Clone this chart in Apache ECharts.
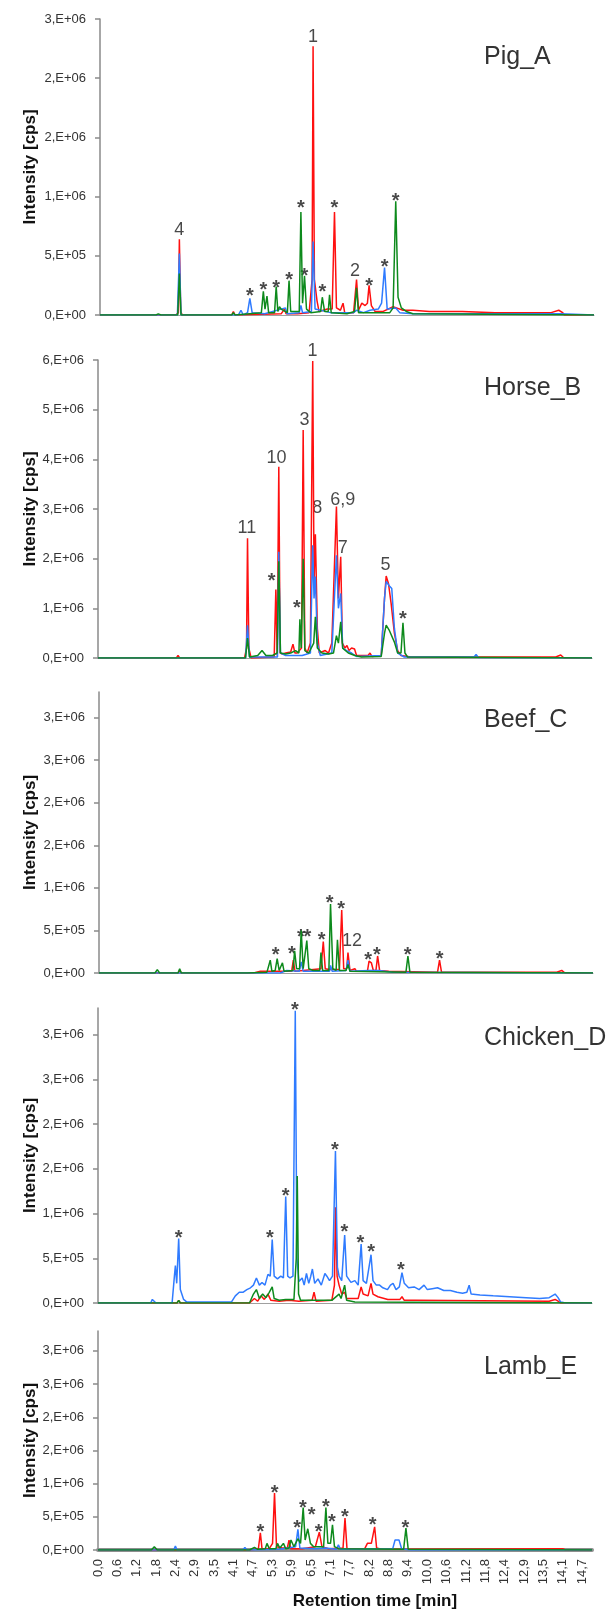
<!DOCTYPE html>
<html><head><meta charset="utf-8">
<script src="https://cdn.jsdelivr.net/npm/echarts@6/dist/echarts.min.js"></script>
<style>html,body{margin:0;padding:0;background:#fff}#c{width:607px;height:1613px}</style>
</head><body><div id="c"></div>
<script>
// ---- x axis (retention time, min) ----
const xTickLabels = ['0,0','0,6','1,2','1,8','2,4','2,9','3,5','4,1','4,7','5,3','5,9','6,5','7,1','7,7','8,2','8,8','9,4','10,0','10,6','11,2','11,8','12,4','12,9','13,5','14,1','14,7'];
const xTickStep = 0.588;

// ---- panel names ----
const panelNames = ['Pig_A','Horse_B','Beef_C','Chicken_D','Lamb_E'];

// ---- y axis tick labels (intensity, units of 1e6 cps) ----
const pigYTicks = ['0,E+00','5,E+05','1,E+06','2,E+06','2,E+06','3,E+06'];
const horseYTicks = ['0,E+00','1,E+06','2,E+06','3,E+06','4,E+06','5,E+06','6,E+06'];
const beefYTicks = ['0,E+00','5,E+05','1,E+06','2,E+06','2,E+06','3,E+06','3,E+06'];
const chickenYTicks = ['0,E+00','5,E+05','1,E+06','2,E+06','2,E+06','3,E+06','3,E+06'];
const lambYTicks = ['0,E+00','5,E+05','1,E+06','2,E+06','2,E+06','3,E+06','3,E+06'];
const yTickSteps = [0.5, 1, 0.5, 0.5, 0.5];
const yMaxes = [2.5, 6, 3.3, 3.3, 3.3];

// ---- chromatograms: [time min, intensity 1e6 cps] ----
const pigRed = [[0,0],[2.3,0],[2.38,0.02],[2.41,0.64],[2.45,0.03],[2.5,0],[4.0,0],[4.05,0.03],[4.1,0],[5.5,0.01],[5.6,0.05],[5.65,0.01],[6.0,0.01],[6.35,0.02],[6.44,0.3],[6.47,2.27],[6.51,0.3],[6.59,0.12],[6.65,0.03],[6.9,0.05],[7.05,0.05],[7.12,0.87],[7.18,0.06],[7.3,0.04],[7.38,0.1],[7.43,0.02],[7.7,0.02],[7.79,0.30],[7.85,0.04],[7.95,0.1],[8.05,0.08],[8.12,0.1],[8.17,0.25],[8.24,0.08],[8.35,0.03],[8.6,0.03],[8.9,0.07],[9.0,0.06],[9.2,0.04],[9.5,0.04],[10.0,0.03],[11.0,0.03],[12.0,0.02],[13.0,0.02],[13.7,0.02],[13.93,0.04],[14.05,0.02],[14.1,0],[15,0]];
const pigBlue = [[0,0],[2.35,0],[2.41,0.52],[2.46,0],[4.2,0],[4.28,0.04],[4.35,0],[4.48,0.02],[4.55,0.14],[4.62,0.02],[5.0,0.01],[5.63,0.06],[5.68,0.01],[6.05,0.02],[6.10,0.08],[6.15,0.02],[6.42,0.03],[6.47,0.62],[6.53,0.05],[7.0,0.02],[7.7,0.02],[7.79,0.04],[8.0,0.02],[8.2,0.04],[8.45,0.05],[8.55,0.1],[8.64,0.40],[8.72,0.05],[8.98,0.06],[9.1,0.02],[9.5,0.01],[14,0.01],[15,0]];
const pigGreen = [[0,0],[1.7,0],[1.77,0.01],[1.85,0],[2.36,0],[2.41,0.35],[2.46,0],[4.0,0],[4.05,0.02],[4.1,0],[4.9,0.02],[4.96,0.2],[5.01,0.05],[5.07,0.16],[5.12,0.02],[5.3,0.02],[5.35,0.24],[5.4,0.03],[5.45,0.07],[5.5,0.05],[5.69,0.02],[5.74,0.29],[5.79,0.03],[6.05,0.03],[6.10,0.87],[6.15,0.1],[6.21,0.33],[6.27,0.05],[6.4,0.02],[6.7,0.03],[6.75,0.15],[6.82,0.03],[6.93,0.03],[6.97,0.17],[7.02,0.02],[7.5,0.01],[7.73,0.03],[7.79,0.23],[7.85,0.02],[8.8,0.02],[8.9,0.06],[8.98,0.96],[9.05,0.15],[9.15,0.06],[9.3,0.03],[9.5,0.01],[15,0]];
const pigMarks = [[2.41,0.72,'4'],[4.55,0.20,'*'],[4.96,0.25,'*'],[5.35,0.27,'*'],[5.74,0.33,'*'],[6.10,0.94,'*'],[6.21,0.37,'*'],[6.47,2.35,'1'],[6.75,0.23,'*'],[7.12,0.94,'*'],[7.74,0.37,'2'],[8.17,0.28,'*'],[8.64,0.44,'*'],[8.98,1.0,'*']];

const horseRed = [[0,0],[2.38,0],[2.43,0.05],[2.48,0],[4.45,0],[4.51,0.2],[4.54,2.41],[4.58,0.2],[4.65,0],[5.35,0.02],[5.40,1.38],[5.44,0.05],[5.49,3.85],[5.53,0.1],[5.6,0.08],[5.7,0.1],[5.85,0.12],[5.92,0.28],[5.98,0.1],[6.05,0.1],[6.18,0.2],[6.23,4.59],[6.28,0.2],[6.35,0.1],[6.45,0.3],[6.52,5.98],[6.56,1.5],[6.60,2.49],[6.66,0.6],[6.72,0.1],[6.9,0.15],[7.0,0.1],[7.1,0.3],[7.24,3.05],[7.30,1.2],[7.37,2.04],[7.42,0.3],[7.5,0.2],[7.56,0.25],[7.62,0.15],[7.7,0.2],[7.79,0.18],[7.85,0.05],[8.2,0.05],[8.26,0.1],[8.32,0.03],[8.6,0.05],[8.7,1.2],[8.75,1.65],[8.82,1.5],[8.90,1.1],[9.0,0.5],[9.1,0.15],[9.2,0.05],[9.5,0.02],[10.25,0.02],[10.31,0.06],[10.37,0.02],[13.9,0.02],[14.05,0.06],[14.15,0],[15,0]];
const horseBlue = [[0,0],[4.48,0],[4.54,0.66],[4.6,0.02],[5.45,0.02],[5.49,2.14],[5.54,0.1],[5.7,0.05],[6.2,0.05],[6.45,0.1],[6.52,2.27],[6.56,1.2],[6.60,1.64],[6.66,0.3],[6.75,0.05],[7.1,0.1],[7.24,2.07],[7.30,1.0],[7.37,1.3],[7.43,0.2],[7.55,0.15],[7.7,0.1],[7.85,0.03],[8.6,0.05],[8.7,1.2],[8.75,1.54],[8.85,1.45],[8.92,1.4],[9.0,0.6],[9.1,0.1],[9.3,0.02],[11.42,0.02],[11.48,0.07],[11.55,0.01],[15,0]];
const horseGreen = [[0,0],[2.38,0],[2.43,0.04],[2.48,0],[4.48,0],[4.54,0.4],[4.6,0.02],[4.85,0.05],[4.98,0.15],[5.1,0.05],[5.3,0.05],[5.44,0.1],[5.49,1.95],[5.54,0.1],[5.7,0.08],[5.85,0.1],[6.0,0.15],[6.1,0.1],[6.13,0.78],[6.17,0.2],[6.23,2.0],[6.28,0.15],[6.4,0.1],[6.55,0.3],[6.60,0.83],[6.66,0.2],[6.8,0.1],[7.0,0.08],[7.15,0.1],[7.24,0.45],[7.30,0.3],[7.37,0.73],[7.43,0.2],[7.6,0.1],[7.8,0.05],[8.0,0.02],[8.6,0.03],[8.7,0.5],[8.75,0.66],[8.85,0.55],[9.0,0.32],[9.1,0.1],[9.2,0.1],[9.26,0.71],[9.32,0.1],[9.4,0.02],[15,0]];
const horseMarks = [[4.52,2.61,'11'],[5.27,1.64,'*'],[5.42,4.02,'10'],[6.04,1.10,'*'],[6.27,4.79,'3'],[6.51,6.18,'1'],[6.66,3.01,'8'],[7.43,3.18,'6,9'],[7.43,2.21,'7'],[8.73,1.87,'5'],[9.26,0.87,'*']];

const beefRed = [[0,0],[2.4,0],[2.45,0.03],[2.5,0],[4.7,0],[4.9,0.02],[5.85,0.02],[5.90,0.15],[5.95,0.02],[6.2,0.03],[6.74,0.05],[6.81,0.37],[6.87,0.05],[7.0,0.04],[7.3,0.04],[7.37,0.74],[7.43,0.05],[7.52,0.05],[7.56,0.24],[7.62,0.03],[7.77,0.05],[7.82,0.02],[8.15,0.02],[8.2,0.14],[8.27,0.12],[8.33,0.03],[8.41,0.03],[8.46,0.2],[8.52,0.03],[8.8,0.02],[10.28,0.01],[10.34,0.15],[10.4,0.01],[13.9,0.01],[14.05,0.03],[14.15,0],[15,0]];
const beefBlue = [[0,0],[5.5,0],[5.7,0.03],[6.08,0.02],[6.14,0.13],[6.2,0.02],[7.0,0.02],[7.03,0.09],[7.08,0.02],[7.5,0.03],[7.56,0.15],[7.62,0.02],[8.2,0.03],[8.5,0.03],[8.9,0.01],[15,0]];
const beefGreen = [[0,0],[1.7,0],[1.77,0.04],[1.84,0],[2.4,0],[2.45,0.05],[2.5,0],[4.5,0],[5.1,0.01],[5.20,0.15],[5.25,0.02],[5.35,0.03],[5.41,0.17],[5.47,0.03],[5.57,0.12],[5.62,0.02],[5.89,0.03],[5.94,0.26],[6.0,0.05],[6.09,0.05],[6.14,0.50],[6.2,0.05],[6.31,0.38],[6.37,0.05],[6.5,0.03],[6.7,0.03],[6.74,0.24],[6.79,0.03],[6.98,0.03],[7.03,0.81],[7.1,0.05],[7.2,0.03],[7.24,0.39],[7.3,0.03],[7.5,0.03],[7.56,0.1],[7.62,0.02],[9.32,0.01],[9.38,0.2],[9.44,0.01],[15,0]];
const beefMarks = [[5.36,0.27,'*'],[5.86,0.28,'*'],[6.13,0.47,'*'],[6.33,0.47,'*'],[6.76,0.44,'*'],[7.0,0.87,'*'],[7.35,0.81,'*'],[7.68,0.38,'12'],[8.17,0.21,'*'],[8.44,0.27,'*'],[9.37,0.27,'*'],[10.34,0.22,'*']];

const chickenRed = [[0,0],[1.65,0],[1.71,0.02],[1.77,0],[2.4,0],[2.45,0.03],[2.5,0],[4.6,0],[4.75,0.05],[4.85,0.02],[4.95,0.08],[5.05,0.04],[5.16,0.1],[5.25,0.03],[5.5,0.02],[5.8,0.03],[6.1,0.02],[6.5,0.03],[6.56,0.12],[6.62,0.02],[7.1,0.03],[7.18,0.2],[7.21,1.07],[7.26,0.3],[7.32,0.2],[7.4,0.1],[7.49,0.12],[7.55,0.05],[7.9,0.05],[7.99,0.18],[8.05,0.1],[8.2,0.08],[8.29,0.22],[8.35,0.1],[8.5,0.07],[8.8,0.04],[9.17,0.04],[9.23,0.07],[9.3,0.03],[9.6,0.03],[13.7,0.02],[13.88,0.04],[13.97,0.02],[14.05,0],[15,0]];
const chickenBlue = [[0,0],[1.6,0],[1.65,0.04],[1.71,0.04],[1.76,0],[2.25,0],[2.32,0.3],[2.35,0.42],[2.39,0.22],[2.45,0.72],[2.5,0.15],[2.6,0.04],[2.7,0.01],[4.05,0.01],[4.17,0.08],[4.29,0.12],[4.4,0.12],[4.52,0.15],[4.63,0.17],[4.72,0.2],[4.81,0.28],[4.9,0.2],[4.98,0.23],[5.07,0.2],[5.16,0.32],[5.23,0.3],[5.29,0.71],[5.35,0.3],[5.45,0.27],[5.55,0.3],[5.63,0.28],[5.70,1.19],[5.76,0.3],[5.83,0.28],[5.92,0.3],[5.99,3.27],[6.04,0.5],[6.10,0.24],[6.2,0.28],[6.26,0.2],[6.33,0.33],[6.40,0.22],[6.46,0.3],[6.51,0.38],[6.58,0.22],[6.68,0.27],[6.78,0.2],[6.89,0.33],[6.95,0.3],[7.03,0.25],[7.12,0.3],[7.21,1.70],[7.27,0.4],[7.32,0.3],[7.4,0.25],[7.49,0.76],[7.55,0.3],[7.68,0.23],[7.8,0.25],[7.9,0.2],[7.99,0.66],[8.05,0.25],[8.15,0.22],[8.29,0.54],[8.35,0.25],[8.45,0.2],[8.55,0.2],[8.65,0.17],[8.79,0.15],[8.88,0.2],[8.96,0.22],[9.05,0.15],[9.15,0.18],[9.23,0.34],[9.3,0.22],[9.43,0.17],[9.6,0.18],[9.75,0.15],[9.9,0.2],[10.0,0.15],[10.15,0.16],[10.31,0.17],[10.5,0.14],[10.7,0.14],[10.9,0.12],[11.07,0.11],[11.2,0.12],[11.27,0.2],[11.33,0.1],[11.6,0.09],[12.0,0.08],[12.5,0.07],[13.0,0.06],[13.41,0.05],[13.7,0.06],[13.88,0.1],[13.97,0.06],[14.05,0.01],[14.2,0],[15,0]];
const chickenGreen = [[0,0],[1.65,0],[1.71,0.02],[1.77,0],[2.4,0],[2.45,0.03],[2.5,0],[4.6,0],[4.72,0.1],[4.81,0.15],[4.9,0.05],[5.0,0.1],[5.1,0.06],[5.2,0.12],[5.29,0.18],[5.35,0.05],[5.5,0.03],[5.7,0.04],[5.95,0.04],[6.02,0.5],[6.05,1.42],[6.09,0.1],[6.15,0.03],[6.5,0.03],[7.1,0.03],[7.32,0.1],[7.38,0.05],[7.49,0.2],[7.55,0.03],[7.8,0.01],[15,0]];
const chickenMarks = [[2.45,0.78,'*'],[5.22,0.78,'*'],[5.70,1.25,'*'],[5.98,3.33,'*'],[7.19,1.76,'*'],[7.48,0.84,'*'],[7.97,0.72,'*'],[8.29,0.62,'*'],[9.2,0.42,'*']];

const lambRed = [[0,0],[4.6,0],[4.87,0.02],[4.93,0.26],[4.98,0.02],[5.2,0.02],[5.30,0.1],[5.36,0.86],[5.42,0.05],[5.6,0.03],[5.75,0.03],[5.80,0.15],[5.85,0.02],[6.2,0.02],[6.6,0.05],[6.72,0.27],[6.8,0.05],[7.0,0.02],[7.44,0.03],[7.50,0.48],[7.56,0.02],[8.1,0.02],[8.18,0.1],[8.3,0.1],[8.40,0.35],[8.46,0.03],[8.6,0.01],[14.0,0.02],[14.11,0.02],[14.2,0],[15,0]];
const lambBlue = [[0,0],[2.3,0],[2.35,0.06],[2.4,0],[4.4,0],[4.46,0.04],[4.52,0],[5.5,0.01],[6.0,0.05],[6.07,0.31],[6.13,0.03],[6.6,0.02],[6.9,0.03],[7.24,0.01],[7.30,0.08],[7.36,0.01],[8.95,0.02],[9.02,0.15],[9.08,0.12],[9.14,0.15],[9.22,0.02],[9.5,0],[15,0]];
const lambGreen = [[0,0],[1.62,0],[1.71,0.05],[1.8,0],[2.3,0],[2.35,0.02],[2.4,0],[4.6,0],[4.75,0.04],[4.85,0.01],[5.08,0.02],[5.13,0.1],[5.2,0.02],[5.4,0.02],[5.45,0.1],[5.52,0.03],[5.63,0.1],[5.7,0.02],[5.8,0.03],[5.86,0.15],[5.95,0.05],[6.07,0.17],[6.15,0.1],[6.23,0.64],[6.29,0.15],[6.37,0.32],[6.45,0.1],[6.55,0.05],[6.85,0.05],[6.92,0.64],[6.98,0.1],[7.06,0.1],[7.12,0.38],[7.18,0.05],[7.3,0.02],[9.28,0.01],[9.35,0.33],[9.42,0.01],[15,0]];
const lambMarks = [[4.93,0.34,'*'],[5.36,0.93,'*'],[6.05,0.40,'*'],[6.22,0.70,'*'],[6.49,0.60,'*'],[6.70,0.34,'*'],[6.92,0.72,'*'],[7.10,0.49,'*'],[7.50,0.56,'*'],[8.34,0.45,'*'],[9.33,0.40,'*']];

// ---- assembly ----
const panelData = [
  {red: pigRed, blue: pigBlue, green: pigGreen, marks: pigMarks, yTicks: pigYTicks},
  {red: horseRed, blue: horseBlue, green: horseGreen, marks: horseMarks, yTicks: horseYTicks},
  {red: beefRed, blue: beefBlue, green: beefGreen, marks: beefMarks, yTicks: beefYTicks},
  {red: chickenRed, blue: chickenBlue, green: chickenGreen, marks: chickenMarks, yTicks: chickenYTicks},
  {red: lambRed, blue: lambBlue, green: lambGreen, marks: lambMarks, yTicks: lambYTicks}
];
// layout (pixels)
const gridBox = [
  {left: 100, top: 19, height: 296},
  {left: 98, top: 360, height: 298},
  {left: 99, top: 692, height: 281},
  {left: 98, top: 1008, height: 295},
  {left: 98, top: 1331, height: 219}
];
const nameTop = [45, 376, 708, 1026, 1355];
const FONT = 'Liberation Sans';
const colors = {red: '#ff1010', blue: '#2f7bff', green: '#0d8a1c'};

const xTickValues = xTickLabels.map((_, i) => +(i * xTickStep).toFixed(4));

const grids = [], xAxes = [], yAxes = [], series = [], graphics = [];
panelData.forEach((p, i) => {
  const g = gridBox[i];
  grids.push({left: g.left, top: g.top, width: 494, height: g.height});
  const last = i === panelData.length - 1;
  xAxes.push({
    type: 'value', gridIndex: i, min: 0, max: 15,
    axisLine: {show: true, onZero: false, lineStyle: {color: last ? '#8f8f8f' : '#a0a0a0', width: last ? 4 : 1}},
    axisTick: {show: false}, splitLine: {show: false},
    axisLabel: last ? {
      show: true, customValues: xTickValues, rotate: 90, fontSize: 13, color: '#333', fontFamily: FONT, margin: 9,
      formatter: v => xTickLabels[Math.round(v / xTickStep)]
    } : {show: false}
  });
  const step = yTickSteps[i];
  const yVals = p.yTicks.map((_, k) => +(k * step).toFixed(4));
  yAxes.push({
    type: 'value', gridIndex: i, min: 0, max: yMaxes[i], interval: step,
    axisLine: {show: true, lineStyle: {color: '#8a8a8a', width: 1.5}},
    axisTick: {show: true, length: 5, customValues: yVals, lineStyle: {color: '#8a8a8a', width: 1.5}},
    splitLine: {show: false},
    axisLabel: {show: true, customValues: yVals, fontSize: 13, color: '#333', fontFamily: FONT, margin: 14,
      formatter: v => p.yTicks[Math.round(v / step)]}
  });
  ['red', 'blue', 'green'].forEach(c => {
    series.push({
      type: 'line', xAxisIndex: i, yAxisIndex: i, data: p[c], showSymbol: false, symbol: 'none',
      lineStyle: {color: colors[c], width: 1.5}, itemStyle: {color: colors[c]}, silent: true
    });
  });
  series.push({
    type: 'scatter', xAxisIndex: i, yAxisIndex: i, clip: false, symbolSize: 0.1, silent: true,
    itemStyle: {color: 'rgba(0,0,0,0)'},
    label: {show: true, position: 'inside', formatter: '{b}', color: '#1a1a1a', fontFamily: FONT},
    data: p.marks.map(m => {
      const star = m[2] === '*';
      return {name: m[2], value: [m[0], m[1]],
        label: star ? {fontSize: 20, fontWeight: 'bold', offset: [0, 5]} : {fontSize: 18, fontWeight: 'normal'}};
    })
  });
  graphics.push({type: 'text', left: 484, top: nameTop[i],
    style: {text: panelNames[i], font: '25px ' + FONT, fill: '#333'}});
  graphics.push({type: 'text', x: 30, y: g.top + g.height / 2, rotation: Math.PI / 2,
    style: {text: 'Intensity [cps]', font: 'bold 17px ' + FONT, fill: '#111', align: 'center', verticalAlign: 'middle'}});
});
graphics.push({type: 'text', x: 375, y: 1601,
  style: {text: 'Retention time [min]', font: 'bold 17px ' + FONT, fill: '#111', align: 'center', verticalAlign: 'middle'}});

const chart = echarts.init(document.getElementById('c'), null, {renderer: 'canvas'});
chart.setOption({
  backgroundColor: '#fff', animation: false,
  grid: grids, xAxis: xAxes, yAxis: yAxes, series: series, graphic: graphics
});
</script></body></html>
